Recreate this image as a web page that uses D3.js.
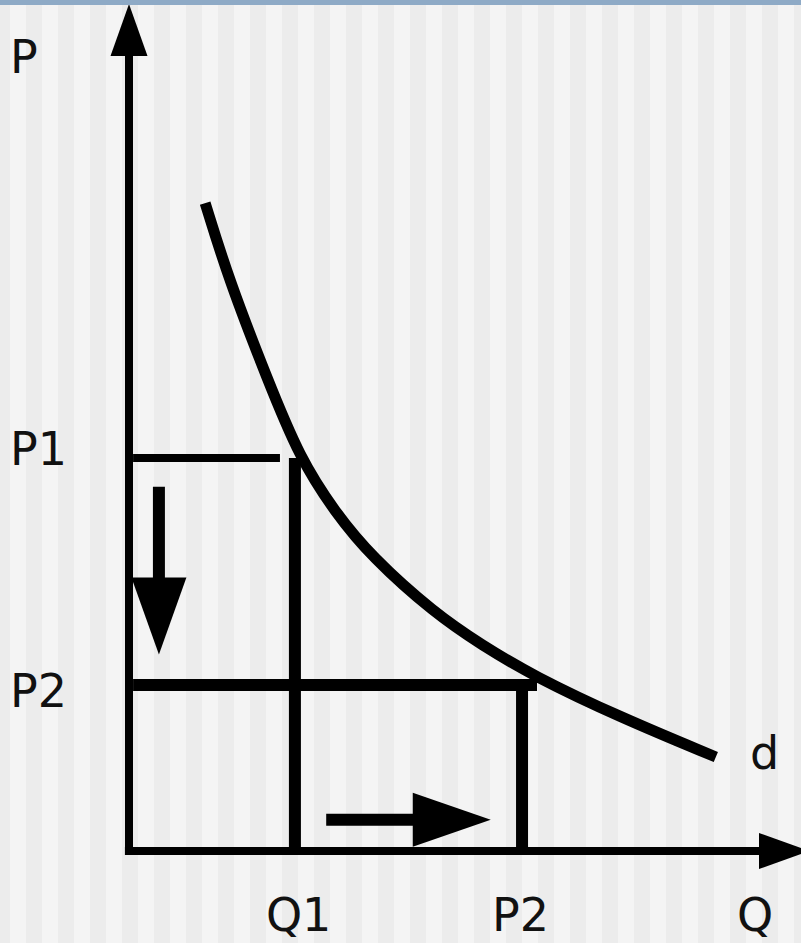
<!DOCTYPE html>
<html>
<head>
<meta charset="utf-8">
<script src="https://cdn.jsdelivr.net/npm/d3@7"></script>
<style>
  html, body { margin: 0; padding: 0; background: #f4f4f4; }
  svg { display: block; }
</style>
</head>
<body>
<svg id="chart" width="801" height="943"></svg>
<script>
    // demand curve d (Q, P in chart units)
    const curveQ = [1.12, 1.47, 2.04, 2.51, 3.03, 3.57, 4.49, 5.19, 5.94, 7.22, 8.63];
    const curveP = [7.65, 6.74, 5.56, 4.64, 4.00, 3.47, 2.81, 2.43, 2.07, 1.58, 1.11];

    // price levels and quantities
    const priceLabels = ["P1", "P2"];
    const priceValues = [4.64, 1.96];
    const qtyLabels = ["Q1", "P2"];
    const qtyValues = [2.44, 5.78];

    const svg = d3.select("#chart");
    const width = +svg.attr("width");
    const height = +svg.attr("height");

    // origin of the axes sits at (129, 851)
    const x = d3.scaleLinear().domain([0, 10]).range([129, 809]);
    const y = d3.scaleLinear().domain([0, 10]).range([851, 4]);

    // striped slide background
    svg.append("rect").attr("width", width).attr("height", height).attr("fill", "#f4f4f4");
    svg.selectAll("rect.stripe")
        .data(d3.range(-6, width, 32))
        .join("rect")
        .attr("class", "stripe")
        .attr("x", d => d)
        .attr("y", 0)
        .attr("width", 16)
        .attr("height", height)
        .attr("fill", "#ececec");

    const g = svg.append("g");

    // guide lines for P1 / P2 and Q1 / P2
    g.append("line")
        .attr("x1", x(0.06)).attr("x2", x(2.22))
        .attr("y1", y(priceValues[0])).attr("y2", y(priceValues[0]))
        .attr("stroke", "#000").attr("stroke-width", 8);
    g.append("line")
        .attr("x1", x(qtyValues[0])).attr("x2", x(qtyValues[0]))
        .attr("y1", y(priceValues[0])).attr("y2", y(0))
        .attr("stroke", "#000").attr("stroke-width", 12);
    g.append("line")
        .attr("x1", x(0.06)).attr("x2", x(6.0))
        .attr("y1", y(priceValues[1])).attr("y2", y(priceValues[1]))
        .attr("stroke", "#000").attr("stroke-width", 12);
    g.append("line")
        .attr("x1", x(qtyValues[1])).attr("x2", x(qtyValues[1]))
        .attr("y1", y(priceValues[1])).attr("y2", y(0))
        .attr("stroke", "#000").attr("stroke-width", 12);

    // demand curve, smoothed through the read points
    const line = d3.line()
        .x(d => x(d[0]))
        .y(d => y(d[1]))
        .curve(d3.curveBasis);
    g.append("path")
        .attr("d", line(d3.zip(curveQ, curveP)))
        .attr("fill", "none")
        .attr("stroke", "#000")
        .attr("stroke-width", 11);

    // arrow helper: shaft + triangular head, all in chart units
    function arrow(x0, y0, x1, y1, shaftW, headLen, headW) {
        const px0 = x(x0), py0 = y(y0), px1 = x(x1), py1 = y(y1);
        const dx = px1 - px0, dy = py1 - py0;
        const len = Math.hypot(dx, dy);
        const ux = dx / len, uy = dy / len;
        const bx = px1 - ux * headLen, by = py1 - uy * headLen;
        g.append("line")
            .attr("x1", px0).attr("y1", py0)
            .attr("x2", bx + ux).attr("y2", by + uy)
            .attr("stroke", "#000").attr("stroke-width", shaftW);
        g.append("path")
            .attr("d", "M" + px1 + "," + py1 +
                "L" + (bx - uy * headW / 2) + "," + (by + ux * headW / 2) +
                "L" + (bx + uy * headW / 2) + "," + (by - ux * headW / 2) + "Z")
            .attr("fill", "#000");
    }

    // axes
    arrow(0, 0, 0, 10, 8, 52, 37);
    arrow(-0.06, 0, 10, 0, 8, 50, 36);

    // movement arrows (price falls, quantity rises)
    arrow(0.44, 4.30, 0.44, 2.32, 12, 77, 55);
    arrow(2.9, 0.37, 5.32, 0.37, 12, 78, 54);

    // labels
    const font = "'DejaVu Sans', Verdana, sans-serif";
    const labels = svg.append("g")
        .attr("font-family", font)
        .attr("font-size", 46)
        .attr("fill", "#111");

    labels.append("text").attr("x", 10).attr("y", 73).text("P");
    labels.selectAll("text.price")
        .data(priceLabels)
        .join("text")
        .attr("class", "price")
        .attr("x", 10)
        .attr("y", (d, i) => y(priceValues[i]) + (i === 0 ? 7 : 22))
        .text(d => d);
    labels.selectAll("text.qty")
        .data(qtyLabels)
        .join("text")
        .attr("class", "qty")
        .attr("x", (d, i) => x(qtyValues[i]) - (i === 0 ? 29 : 30))
        .attr("y", 931)
        .text(d => d);
    labels.append("text").attr("x", 737).attr("y", 931).text("Q");
    labels.append("text").attr("x", 750).attr("y", 769).text("d");

    // title bar strip at the top
    svg.append("rect").attr("x", 0).attr("y", 0).attr("width", width).attr("height", 5).attr("fill", "#8eaac6");
</script>
</body>
</html>
